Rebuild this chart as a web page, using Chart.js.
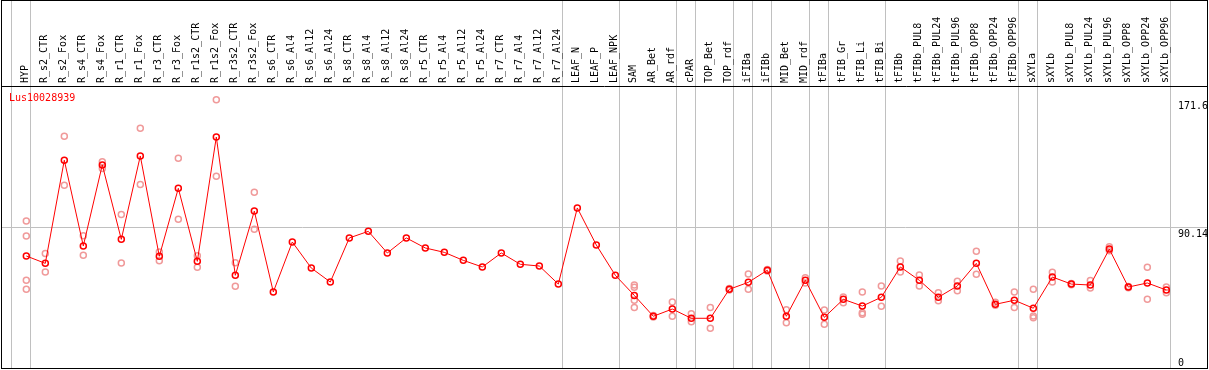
<!DOCTYPE html>
<html>
<head>
<meta charset="utf-8">
<script src="https://cdn.jsdelivr.net/npm/chart.js@4.4.0/dist/chart.umd.min.js"></script>
<style>
  html, body { margin: 0; padding: 0; background: #fff; }
</style>
</head>
<body>
<canvas id="exprChart" width="1209" height="370"></canvas>
<script>
const geneName = 'Lus10028939';

const categories = [
  'HYP', 'R_s2_CTR', 'R_s2_Fox', 'R_s4_CTR', 'R_s4_Fox', 'R_r1_CTR', 'R_r1_Fox',
  'R_r3_CTR', 'R_r3_Fox', 'R_r1s2_CTR', 'R_r1s2_Fox', 'R_r3s2_CTR', 'R_r3s2_Fox',
  'R_s6_CTR', 'R_s6_Al4', 'R_s6_Al12', 'R_s6_Al24', 'R_s8_CTR', 'R_s8_Al4',
  'R_s8_Al12', 'R_s8_Al24', 'R_r5_CTR', 'R_r5_Al4', 'R_r5_Al12', 'R_r5_Al24',
  'R_r7_CTR', 'R_r7_Al4', 'R_r7_Al12', 'R_r7_Al24', 'LEAF_N', 'LEAF_P', 'LEAF_NPK',
  'SAM', 'AR_Bet', 'AR_rdf', 'cPAR', 'TOP_Bet', 'TOP_rdf', 'iFIBa', 'iFIBb',
  'MID_Bet', 'MID_rdf', 'tFIBa', 'tFIB_Gr', 'tFIB_Li', 'tFIB_Bi', 'tFIBb',
  'tFIBb_PUL8', 'tFIBb_PUL24', 'tFIBb_PUL96', 'tFIBb_OPP8', 'tFIBb_OPP24', 'tFIBb_OPP96',
  'sXYLa', 'sXYLb', 'sXYLb_PUL8', 'sXYLb_PUL24', 'sXYLb_PUL96', 'sXYLb_OPP8',
  'sXYLb_OPP24', 'sXYLb_OPP96'
];

const means = [
  72.0, 67.3, 133.0, 78.4, 130.0, 82.6, 135.7, 71.8, 115.1, 68.6, 147.8, 59.7, 100.6,
  49.1, 80.9, 64.3, 55.4, 83.5, 87.7, 73.9, 83.5, 77.1, 74.3, 69.2, 65.0,
  73.9, 66.7, 65.6, 54.1, 102.6, 79.0, 59.7,
  46.9, 33.6, 38.2, 32.3, 32.3, 50.8, 55.2, 62.9, 33.6, 56.5, 32.9, 44.4, 40.1, 45.7,
  65.0, 56.5, 45.7, 52.9, 67.3, 41.2, 43.8,
  38.7, 58.6, 54.1, 53.5, 76.4, 52.2, 54.8, 50.3
];

// individual replicate values per category (empty = single sample)
const replicates = [
  [94.3, 84.7, 56.5, 50.8], [73.5, 61.8], [148.2, 117.0], [84.9, 72.4], [132.1, 127.8],
  [98.5, 67.5], [153.3, 117.6], [74.5, 69.0], [134.2, 95.4], [72.2, 64.8],
  [171.6, 122.8], [67.7, 52.7], [112.6, 89.0],
  [], [], [], [], [], [], [], [], [], [], [], [], [], [], [], [], [], [], [],
  [53.5, 52.0, 43.8, 39.1], [34.1, 33.1], [42.7, 33.6], [35.2, 30.1], [39.1, 25.9],
  [51.3, 50.3], [60.5, 50.8], [63.4, 62.4], [37.8, 29.5], [58.2, 54.8], [37.6, 28.5],
  [45.9, 42.2], [49.1, 35.9, 34.8], [52.9, 39.9],
  [68.8, 61.8], [59.9, 52.9], [48.6, 43.5], [55.9, 49.9], [75.0, 60.3], [42.5, 40.6],
  [49.1, 39.1],
  [50.8, 33.8, 32.7], [61.6, 55.4], [54.5, 53.7], [56.3, 51.6], [77.9, 75.4],
  [52.6, 51.8], [64.8, 44.4], [52.2, 48.6]
];

const yTickValues = [0, 90.14, 171.6];
const yMax = 180.28;
// last category index of each group, the separator sits just right of it
const groupEnds = [-1, 0, 28, 31, 34, 35, 37, 38, 39, 41, 42, 45, 52, 53, 60];
const sepShift = 0.22;

const separators = groupEnds.map(g => g + sepShift);
const meanPoints = means.map((v, i) => ({ x: i, y: v }));
let repPoints = [];
replicates.forEach((list, i) => {
  list.forEach(v => repPoints.push({ x: i, y: v }));
});

const monoFont = '"DejaVu Sans Mono", "Liberation Mono", monospace';

const frame = {
  id: 'frame',
  afterDraw(chart) {
    const { ctx, chartArea, scales } = chart;
    ctx.save();
    ctx.strokeStyle = '#000';
    ctx.lineWidth = 1;
    ctx.strokeRect(1.5, 0.5, 1206, 368);

    ctx.font = '10px ' + monoFont;
    ctx.textBaseline = 'top';
    ctx.textAlign = 'left';
    ctx.fillStyle = '#000';
    for (const v of yTickValues) {
      const py = scales.y.getPixelForValue(v);
      const ty = Math.min(py + 2, chartArea.bottom - 11);
      ctx.fillText(String(v), chartArea.right - 29, ty);
    }

    ctx.fillStyle = '#ff0000';
    ctx.fillText(geneName, chartArea.left + 8, chartArea.top + 7);
    ctx.restore();
  }
};

new Chart(document.getElementById('exprChart'), {
  type: 'line',
  data: {
    datasets: [
      {
        label: 'mean',
        data: meanPoints,
        borderColor: '#ff0000',
        borderWidth: 1,
        tension: 0,
        pointStyle: 'circle',
        pointRadius: 3,
        pointBorderWidth: 1.5,
        pointBorderColor: '#ff0000',
        pointBackgroundColor: 'rgba(0,0,0,0)',
        order: 1
      },
      {
        label: 'replicates',
        type: 'scatter',
        data: repPoints,
        showLine: false,
        pointStyle: 'circle',
        pointRadius: 3,
        pointBorderWidth: 1.5,
        pointBorderColor: '#f09a9a',
        pointBackgroundColor: 'rgba(0,0,0,0)',
        order: 2
      }
    ]
  },
  options: {
    responsive: false,
    animation: false,
    devicePixelRatio: 1,
    layout: { autoPadding: false, padding: { left: 1, right: 2, top: 0, bottom: 1 } },
    plugins: {
      legend: { display: false },
      tooltip: { enabled: false }
    },
    scales: {
      x: {
        type: 'linear',
        position: 'top',
        min: -1.332,
        max: 62.14,
        afterBuildTicks: scale => {
          const t = categories.map((c, i) => ({ value: i }));
          separators.forEach(s => t.push({ value: s }));
          scale.ticks = t;
        },
        afterFit: scale => {
          scale.height = 86;
          scale.paddingLeft = 0;
          scale.paddingRight = 0;
        },
        grid: {
          color: c => (c.tick && !Number.isInteger(c.tick.value)) ? '#c0c0c0' : 'rgba(0,0,0,0)',
          lineWidth: 1,
          drawTicks: true,
          tickLength: 86
        },
        border: { display: true, color: '#000', width: 1 },
        ticks: {
          autoSkip: false,
          minRotation: 90,
          maxRotation: 90,
          padding: -83,
          labelOffset: 11,
          color: '#000',
          font: { family: monoFont, size: 10 },
          callback: v => Number.isInteger(v) ? categories[v] : ''
        }
      },
      y: {
        type: 'linear',
        position: 'right',
        min: 0,
        max: yMax,
        afterBuildTicks: scale => {
          scale.ticks = yTickValues.map(v => ({ value: v }));
        },
        afterFit: scale => { scale.width = 0; },
        grid: {
          color: c => (c.tick && c.tick.value === 90.14) ? '#c0c0c0' : 'rgba(0,0,0,0)',
          drawTicks: false
        },
        border: { display: false },
        ticks: { display: false }
      }
    }
  },
  plugins: [frame]
});
</script>
</body>
</html>
